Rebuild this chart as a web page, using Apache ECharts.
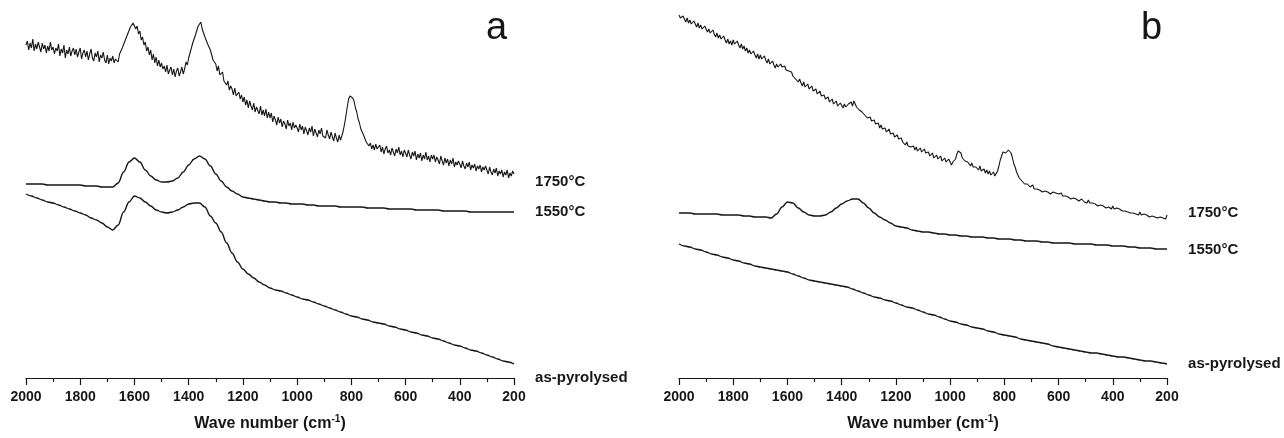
<!DOCTYPE html>
<html>
<head>
<meta charset="utf-8">
<script src="https://cdn.jsdelivr.net/npm/echarts@6/dist/echarts.min.js"></script>
<style>
html,body{margin:0;padding:0;background:#fff;}
#chart{width:1284px;height:438px;}
</style>
</head>
<body>
<div id="chart"></div>
<script>
// Wave numbers (cm-1), sampled every 5 for the noisy spectra
const wnFine = [
2000,1995,1990,1985,1980,1975,1970,1965,1960,1955,1950,1945,1940,1935,1930,1925,1920,1915,1910,1905,
1900,1895,1890,1885,1880,1875,1870,1865,1860,1855,1850,1845,1840,1835,1830,1825,1820,1815,1810,1805,
1800,1795,1790,1785,1780,1775,1770,1765,1760,1755,1750,1745,1740,1735,1730,1725,1720,1715,1710,1705,
1700,1695,1690,1685,1680,1675,1670,1665,1660,1655,1650,1645,1640,1635,1630,1625,1620,1615,1610,1605,
1600,1595,1590,1585,1580,1575,1570,1565,1560,1555,1550,1545,1540,1535,1530,1525,1520,1515,1510,1505,
1500,1495,1490,1485,1480,1475,1470,1465,1460,1455,1450,1445,1440,1435,1430,1425,1420,1415,1410,1405,
1400,1395,1390,1385,1380,1375,1370,1365,1360,1355,1350,1345,1340,1335,1330,1325,1320,1315,1310,1305,
1300,1295,1290,1285,1280,1275,1270,1265,1260,1255,1250,1245,1240,1235,1230,1225,1220,1215,1210,1205,
1200,1195,1190,1185,1180,1175,1170,1165,1160,1155,1150,1145,1140,1135,1130,1125,1120,1115,1110,1105,
1100,1095,1090,1085,1080,1075,1070,1065,1060,1055,1050,1045,1040,1035,1030,1025,1020,1015,1010,1005,
1000,995,990,985,980,975,970,965,960,955,950,945,940,935,930,925,920,915,910,905,
900,895,890,885,880,875,870,865,860,855,850,845,840,835,830,825,820,815,810,805,
800,795,790,785,780,775,770,765,760,755,750,745,740,735,730,725,720,715,710,705,
700,695,690,685,680,675,670,665,660,655,650,645,640,635,630,625,620,615,610,605,
600,595,590,585,580,575,570,565,560,555,550,545,540,535,530,525,520,515,510,505,
500,495,490,485,480,475,470,465,460,455,450,445,440,435,430,425,420,415,410,405,
400,395,390,385,380,375,370,365,360,355,350,345,340,335,330,325,320,315,310,305,
300,295,290,285,280,275,270,265,260,255,250,245,240,235,230,225,220,215,210,205,
200];
// Wave numbers sampled every 20 for the smooth spectra
const wnCoarse = [
2000,1980,1960,1940,1920,1900,1880,1860,1840,1820,
1800,1780,1760,1740,1720,1700,1680,1660,1640,1620,
1600,1580,1560,1540,1520,1500,1480,1460,1440,1420,
1400,1380,1360,1340,1320,1300,1280,1260,1240,1220,
1200,1180,1160,1140,1120,1100,1080,1060,1040,1020,
1000,980,960,940,920,900,880,860,840,820,
800,780,760,740,720,700,680,660,640,620,
600,580,560,540,520,500,480,460,440,420,
400,380,360,340,320,300,280,260,240,220,
200];

// Panel a — intensity (a.u., curves offset vertically)
const a1750 = [
333,337,328,335,330,339,327,334,329,336,331,326,335,329,333,325,332,327,336,328,
331,324,330,327,334,322,329,325,333,320,328,324,331,322,327,330,323,329,321,326,
330,319,325,328,321,327,318,324,329,320,317,325,321,327,316,323,320,326,318,315,
323,314,320,317,322,315,319,321,316,324,322,330,328,337,336,344,343,351,349,355,
356,349,352,344,347,338,341,333,336,327,331,323,328,318,324,315,321,312,318,311,
315,309,312,306,313,304,308,311,303,309,301,307,310,302,306,311,304,309,316,313,
320,325,327,335,334,343,345,352,351,356,349,348,341,342,334,335,328,326,318,319,
314,307,312,303,301,306,297,299,293,297,288,292,289,283,290,282,280,286,279,283,
276,281,273,278,270,277,272,268,275,266,271,269,264,272,263,268,262,269,260,266,
260,265,256,262,258,253,261,255,259,251,257,254,249,258,252,255,248,256,250,253,
250,246,254,248,252,244,251,247,243,250,246,252,242,249,245,241,248,244,250,242,
244,240,248,243,239,246,241,237,245,240,236,243,238,242,247,254,262,271,279,282,
284,280,277,270,266,259,255,249,247,243,241,236,238,232,235,229,233,228,234,229,
228,233,226,231,224,229,232,225,228,223,230,226,222,229,225,231,223,227,221,228,
225,221,228,223,219,226,222,227,218,224,220,225,217,223,219,226,218,222,216,223,
219,223,216,221,218,214,222,217,213,220,215,219,212,218,214,220,211,216,213,217,
214,210,217,212,209,215,211,216,208,213,210,214,207,212,209,213,206,211,208,212,
208,204,211,206,203,209,205,210,202,207,204,208,201,206,203,208,200,205,202,207,
204];
const a1550 = [
194,194,194,194,193,193,193,193,193,193,
193,192,192,192,191,191,191,195,206,216,
220,216,208,202,198,196,196,197,200,206,
213,219,222,219,212,204,197,191,187,184,
181,180,179,178,177,176,176,175,175,174,
174,174,173,173,172,172,172,172,171,171,
171,171,171,170,170,170,170,169,169,169,
169,169,168,168,168,168,168,167,167,167,
167,167,166,166,166,166,166,166,166,166,
166];
const aAsPyro = [
184,182,180,178,176,175,173,171,169,167,
165,163,160,158,155,151,148,153,166,176,
182,180,176,172,168,166,165,166,168,171,
174,175,175,171,162,155,146,135,125,116,
109,104,100,96,93,90,88,87,85,83,
81,79,78,76,74,72,70,68,66,64,
62,61,59,58,56,55,54,52,51,49,
48,46,45,43,42,40,39,37,35,33,
32,30,28,27,25,23,21,19,17,16,
14];

// Panel b
const b1750 = [
363,360,358,362,359,356,360,355,358,354,353,357,354,351,355,350,353,349,347,352,
350,346,349,345,343,348,344,341,345,340,343,339,337,342,338,335,339,334,337,333,
338,334,332,337,333,330,334,329,332,327,330,325,328,324,322,327,323,320,324,319,
323,319,317,322,318,315,319,314,313,317,313,310,314,311,310,314,311,309,312,308,
310,307,305,306,302,303,299,300,296,299,295,292,296,291,290,294,289,288,292,287,
287,289,284,283,287,282,280,283,279,277,281,276,275,279,274,273,277,272,271,275,
273,270,274,271,270,274,273,276,272,277,274,271,272,268,269,266,266,263,263,260,
259,261,257,255,258,254,252,255,250,253,249,247,250,246,245,249,244,242,245,241,
241,243,239,237,240,236,235,233,236,232,234,231,229,232,228,231,227,226,230,226,
227,229,225,223,226,222,221,225,220,219,223,219,218,222,217,216,220,216,215,219,
216,213,216,218,219,224,227,225,225,220,220,217,217,216,215,212,215,211,212,211,
210,208,212,207,208,209,205,208,204,207,203,202,206,202,204,207,212,218,222,226,
228,225,226,228,226,225,220,214,211,206,204,200,199,197,198,194,195,194,193,191,
191,193,189,190,189,187,188,189,186,187,187,185,186,186,184,185,186,184,185,184,
184,182,185,182,183,182,180,181,182,179,180,180,178,179,180,177,178,179,177,176,
177,175,178,175,176,175,173,174,175,172,173,173,171,172,173,170,171,171,170,169,
172,169,170,170,168,169,169,167,168,167,165,166,167,165,166,165,163,164,165,163,
166,163,164,164,162,163,163,161,162,162,160,161,162,160,161,161,159,160,160,159,
163];
const b1550 = [
165,165,165,164,164,164,164,164,163,163,
163,163,162,162,161,161,161,160,164,171,
176,175,170,166,163,162,162,163,166,170,
174,177,179,179,175,170,165,161,158,155,
152,151,150,148,147,146,146,145,144,144,
143,143,142,142,141,141,141,140,140,139,
139,139,138,138,137,137,137,136,136,135,
135,135,135,134,134,134,134,133,133,133,
132,132,132,131,131,130,130,130,129,129,
129];
const bAsPyro = [
134,132,131,129,128,126,124,123,121,120,
118,117,115,114,112,111,110,109,108,107,
106,104,102,100,98,97,96,95,94,93,
92,91,89,87,85,83,81,80,78,77,
75,73,71,70,68,66,64,63,61,59,
57,56,54,53,51,50,49,47,46,44,
43,42,41,39,38,37,36,35,34,32,
31,30,29,28,27,26,25,25,24,23,
22,21,21,20,19,18,17,17,16,15,
14];

const seriesNames = ['1750°C', '1550°C', 'as-pyrolysed'];
const panelLetters = ['a', 'b'];
const axisTitle = 'Wave number (cm{sup|-1})';

function pairs(xs, ys) { return xs.map((x, i) => [x, ys[i]]); }

const FONT = '"Liberation Sans", Arial, sans-serif';
const INK = '#161616';

function xAxisFor(gi) {
  return {
    type: 'value', gridIndex: gi, inverse: true,
    min: 200, max: 2000, interval: 200,
    axisLine: { show: true, onZero: false, lineStyle: { color: INK, width: 1.2 } },
    axisTick: { show: true, length: 7, lineStyle: { color: INK, width: 1.2 } },
    minorTick: { show: true, splitNumber: 2, length: 4, lineStyle: { color: INK, width: 1.2 } },
    splitLine: { show: false },
    axisLabel: { color: INK, fontFamily: FONT, fontWeight: 'bold', fontSize: 14, margin: 12,
                 formatter: v => String(v) },
    name: axisTitle, nameLocation: 'middle', nameGap: 36,
    nameTextStyle: {
      color: INK, fontFamily: FONT, fontWeight: 'bold', fontSize: 16,
      rich: { sup: { fontSize: 10, fontWeight: 'bold', fontFamily: FONT, color: INK, verticalAlign: 'top', padding: [0, 0, 10, 0] } }
    }
  };
}
function yAxisFor(gi) {
  return { type: 'value', gridIndex: gi, min: 0, max: 378, show: false, splitLine: { show: false } };
}
function line(name, gi, data, labelDy, width, smooth) {
  const last = data[data.length - 1];
  return {
    name: name, type: 'line', xAxisIndex: gi, yAxisIndex: gi,
    data: data, showSymbol: false, symbol: 'none',
    smooth: smooth, smoothMonotone: 'x',
    lineStyle: { color: INK, width: width },
    silent: true,
    markPoint: {
      silent: true, symbol: 'circle', symbolSize: 0.1,
      itemStyle: { color: 'rgba(0,0,0,0)' },
      data: [{ coord: last }],
      label: {
        show: true, position: 'right', distance: 21, offset: [0, labelDy],
        formatter: name, color: INK, fontFamily: FONT, fontWeight: 'bold', fontSize: 15
      }
    }
  };
}

const chart = echarts.init(document.getElementById('chart'), null, { renderer: 'canvas' });
chart.setOption({
  animation: false,
  backgroundColor: '#fff',
  grid: [
    { left: 26, width: 488, top: 0, bottom: 60 },
    { left: 679, width: 488, top: 0, bottom: 60 }
  ],
  xAxis: [xAxisFor(0), xAxisFor(1)],
  yAxis: [yAxisFor(0), yAxisFor(1)],
  series: [
    line(seriesNames[0], 0, pairs(wnFine, a1750), 8, 1.1, false),
    line(seriesNames[1], 0, pairs(wnCoarse, a1550), 0, 1.4, 0.35),
    line(seriesNames[2], 0, pairs(wnCoarse, aAsPyro), 14, 1.4, 0.35),
    line(seriesNames[0], 1, pairs(wnFine, b1750), -2, 1.1, false),
    line(seriesNames[1], 1, pairs(wnCoarse, b1550), 1, 1.4, 0.35),
    line(seriesNames[2], 1, pairs(wnCoarse, bAsPyro), 0, 1.4, 0.35)
  ],
  graphic: [
    { type: 'text', x: 486, y: 29, style: { text: panelLetters[0], font: 'normal 38px ' + FONT, fill: INK, verticalAlign: 'middle' } },
    { type: 'text', x: 1141, y: 29, style: { text: panelLetters[1], font: 'normal 38px ' + FONT, fill: INK, verticalAlign: 'middle' } }
  ]
});
</script>
</body>
</html>
